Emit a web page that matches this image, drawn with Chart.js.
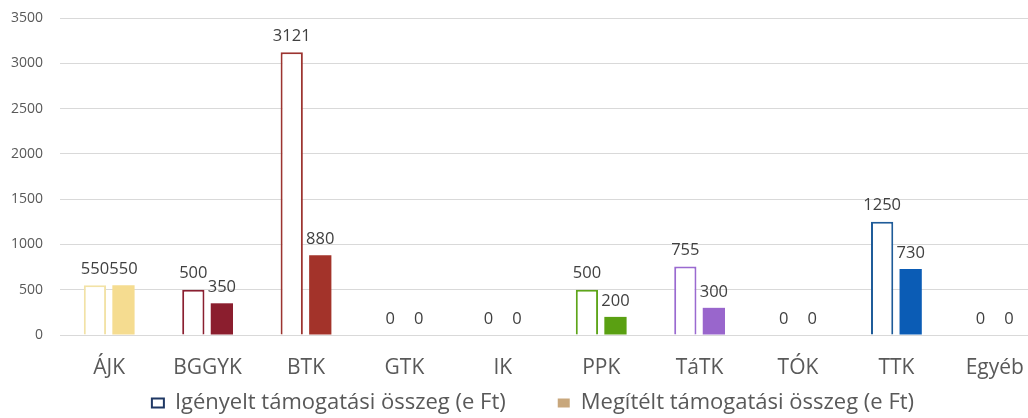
<!DOCTYPE html>
<html><head><meta charset="utf-8">
<script src="https://cdn.jsdelivr.net/npm/chart.js@4"></script>
<style>
html,body{margin:0;padding:0;background:#fff;overflow:hidden;width:1028px;height:418px;}
#wrap{width:1066px;height:424px;position:relative;}
</style></head>
<body><div id="wrap"><canvas id="c"></canvas></div>
<script>
const categories = ["ÁJK","BGGYK","BTK","GTK","IK","PPK","TáTK","TÓK","TTK","Egyéb"];
const requested = [550,500,3121,0,0,500,755,0,1250,0];
const awarded = [550,350,880,0,0,200,300,0,730,0];
const outlineColors = ["#f2e2a6","#8a1f30","#9c3430","#9c3430","#9c3430","#5ea51a","#9a6ad0","#1f5c99","#1f5c99","#1f5c99"];
const fillColors = ["#f5dc90","#8b1e2e","#a3332a","#a3332a","#a3332a","#5aa012","#9966cc","#0b5cb5","#0b5cb5","#0b5cb5"];
const seriesNames = ["Igényelt támogatási összeg (e Ft)","Megítélt támogatási összeg (e Ft)"];
const yTicks = [0,500,1000,1500,2000,2500,3000,3500];

const FONT = "'Open Sans', sans-serif";

const labelPlugin = {
  id:'vals',
  afterLayout(chart){
    if (chart.legend){ chart.legend.left += 11; chart.legend.right += 11; }
  },
  afterDatasetsDraw(chart){
    const ctx = chart.ctx;
    ctx.save();
    ctx.font = "16.5px " + FONT;
    ctx.fillStyle = "#404040";
    ctx.textAlign = "center";
    ctx.textBaseline = "middle";
    chart.data.datasets.forEach((ds,i)=>{
      const meta = chart.getDatasetMeta(i);
      meta.data.forEach((el,j)=>{
        ctx.fillText(String(ds.data[j]), el.x, el.y - 16);
      });
    });
    ctx.restore();
  }
};

new Chart(document.getElementById('c'),{
  type:'bar',
  data:{
    labels:categories,
    datasets:[
      {label:seriesNames[0],data:requested,backgroundColor:"#ffffff",borderColor:outlineColors,borderWidth:2,
       categoryPercentage:0.58,barPercentage:0.78},
      {label:seriesNames[1],data:awarded,backgroundColor:fillColors,borderWidth:0,
       categoryPercentage:0.58,barPercentage:0.78}
    ]
  },
  options:{
    responsive:true,maintainAspectRatio:false,animation:false,
    layout:{padding:{top:18,right:22,left:0,bottom:0}},
    plugins:{
      tooltip:{enabled:false},
      legend:{
        position:'bottom',
        labels:{
          font:{family:FONT,size:22},color:"#595959",padding:8,
          boxWidth:12,boxHeight:9,
          generateLabels(chart){
            return [
              {text:seriesNames[0]+"\u2002\u2002\u2002\u2002",fillStyle:"#ffffff",strokeStyle:"#1f3864",lineWidth:2,datasetIndex:0,fontColor:"#595959"},
              {text:seriesNames[1],fillStyle:"#c8a77c",strokeStyle:"#c8a77c",lineWidth:0,datasetIndex:1,fontColor:"#595959"}
            ];
          }
        }
      }
    },
    scales:{
      x:{
        grid:{display:false,drawTicks:false},
        border:{display:true,color:"#d9d9d9"},
        ticks:{font:{family:FONT,size:21},color:"#595959",padding:20,maxRotation:0,autoSkip:false},
        afterFit(s){s.height=49;}
      },
      y:{
        min:0,max:3500,
        afterBuildTicks(s){s.ticks = yTicks.map(v=>({value:v}));},
        grid:{color:"#d9d9d9",drawTicks:false},
        border:{display:false},
        ticks:{font:{family:FONT,size:14},color:"#595959",padding:17,callback:v=>String(v)},
        afterFit(s){s.width=60;s.paddingTop=0;s.paddingBottom=0;}
      }
    }
  },
  plugins:[labelPlugin]
});
</script></body></html>
